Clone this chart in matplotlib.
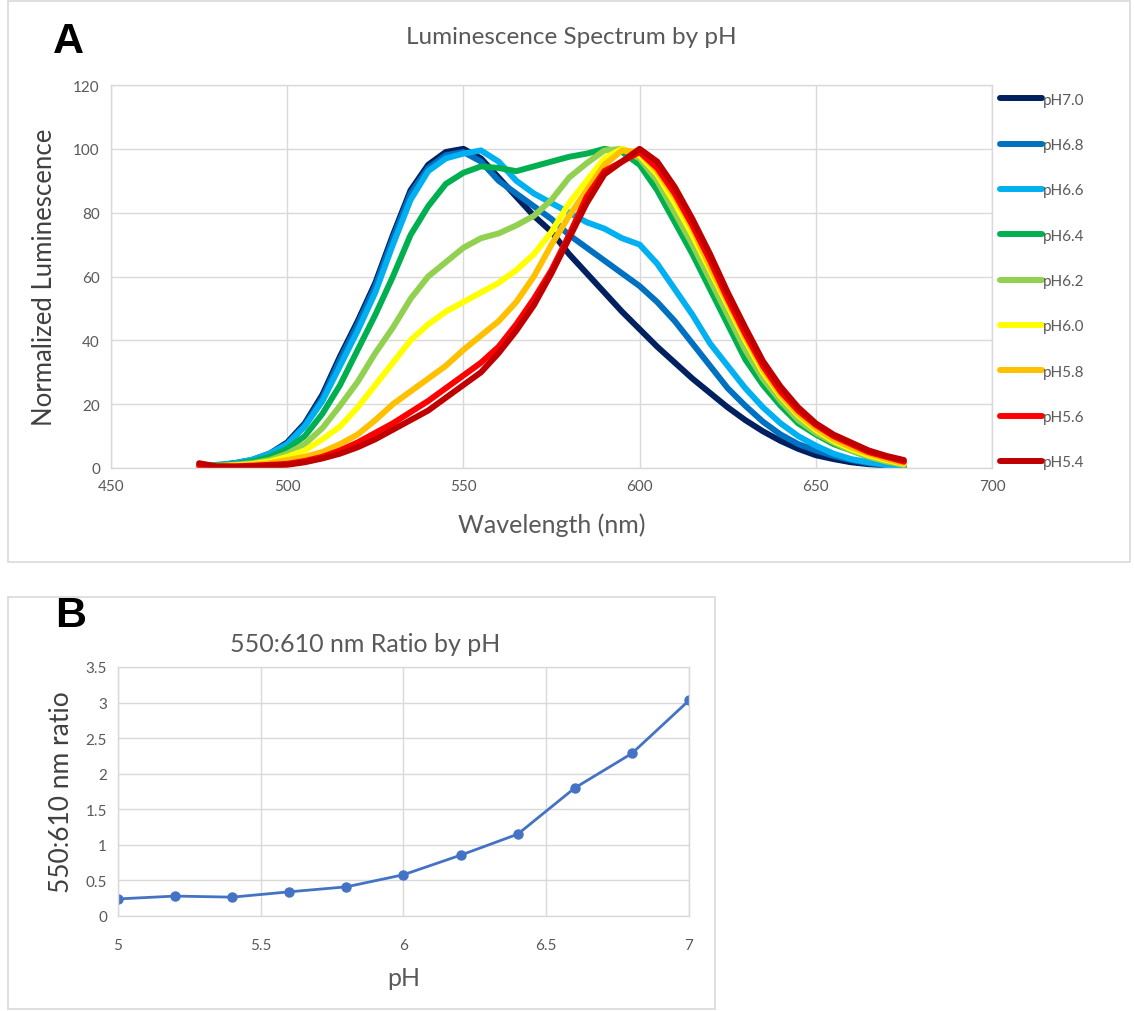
"""Luminescence spectra at different pH values, plus the 550:610 nm ratio curve."""

import matplotlib

matplotlib.use("Agg")
import matplotlib.pyplot as plt
from matplotlib.patches import Rectangle

plt.rcParams["font.family"] = ["Lato", "DejaVu Sans"]

# ---- spectra (normalized luminescence, sampled every 5 nm) ----
wavelength = list(range(475, 680, 5))

ph70 = [0.5, 0.8, 1.5, 2.5, 4.5, 8, 14, 23, 35, 46, 58, 73, 87, 95, 99, 100, 97, 91, 85, 79,
        74, 67, 61, 55, 49, 43.5, 38, 33, 28, 23.5, 19, 15, 11.5, 8.5, 6, 4, 2.8, 1.8, 1.2, 0.8, 0.5]
ph68 = [0.5, 0.8, 1.4, 2.4, 4.3, 7.5, 13.5, 22, 34, 45, 57, 72, 86, 94, 98, 99, 96, 90, 86, 82,
        78, 73, 69, 65, 61, 57, 52, 46, 39, 32, 25, 19.5, 14.5, 10.5, 7.5, 5.5, 3.8, 2.5, 1.5, 0.9, 0.5]
ph66 = [0.5, 1, 1.5, 2.6, 4.5, 7.5, 13, 21, 32, 43, 55, 70, 84, 93, 97, 98.5, 99.5, 96, 90, 86,
        83, 80, 77, 75, 72, 70, 64, 56, 48, 39, 32, 25, 19, 14, 10, 7, 4.5, 2.8, 1.8, 1, 0.5]
ph64 = [0.5, 0.8, 1.2, 2, 3.5, 6, 10, 17, 26, 37, 48, 60, 73, 82, 89, 92.5, 94.5, 94, 93, 94.5,
        96, 97.5, 98.5, 100, 99, 95, 87, 77, 67, 56, 45, 34, 26, 19.5, 14, 10.5, 7.5, 5.5, 3.5, 2, 1.2]
ph62 = [0.5, 0.7, 1, 1.5, 2.5, 4.5, 7.5, 12.5, 19.5, 27, 36, 44, 53, 60, 64.5, 69, 72, 73.5, 76, 79,
        84, 91, 95.5, 99.5, 100, 97, 90, 80, 70, 59, 48, 37, 28, 21, 15, 11, 8, 5.5, 3.5, 2, 1]
ph60 = [0.3, 0.5, 0.8, 1.2, 2, 3.5, 5.5, 9, 13, 19, 26, 33, 40, 45, 49, 52, 55, 58, 62, 67,
        74, 83, 90, 97, 100, 98, 92, 83, 73, 62, 51, 40, 30, 22.5, 16.5, 12, 8.5, 6, 4, 2.5, 1.3]
ph58 = [0.3, 0.4, 0.6, 1, 1.5, 2.5, 3.5, 5, 7.5, 10.5, 15, 20, 24, 28, 32, 37, 41.5, 46, 52, 60,
        70, 79, 87, 95, 99.5, 99, 93, 85, 75, 63, 52, 41, 31, 23, 17, 12.5, 9, 6.5, 4.5, 2.8, 1.5]
ph56 = [0.8, 0.5, 0.5, 0.7, 1, 1.3, 2.2, 3.5, 5.5, 8, 11, 14, 17.5, 21, 25, 29, 33, 38, 45, 53,
        62, 73, 85, 93, 96, 99, 94, 86, 76, 65, 53, 42, 32, 24, 18, 13.5, 10, 7.5, 5, 3.5, 2]
ph54 = [1.5, 0.5, 0.4, 0.5, 0.8, 1, 1.8, 3, 4.5, 6.5, 9, 12, 15, 18, 22, 26, 30, 36, 43, 51,
        61, 72, 83, 92, 96, 100, 96, 88, 78, 67, 55, 44, 33.5, 25.5, 19, 14, 10.5, 8, 5.5, 3.8, 2.5]

spectra = [ph70, ph68, ph66, ph64, ph62, ph60, ph58, ph56, ph54]
spectrum_labels = ["pH7.0", "pH6.8", "pH6.6", "pH6.4", "pH6.2", "pH6.0", "pH5.8", "pH5.6", "pH5.4"]
spectrum_colors = ["#002060", "#0070C0", "#00B0F0", "#00B050", "#92D050",
                   "#FFFF00", "#FFC000", "#FF0000", "#C00000"]

# ---- 550:610 ratio ----
ph_values = [5.0, 5.2, 5.4, 5.6, 5.8, 6.0, 6.2, 6.4, 6.6, 6.8, 7.0]
ratio_550_610 = [0.24, 0.28, 0.265, 0.34, 0.41, 0.58, 0.855, 1.15, 1.80, 2.285, 3.03]

GRID = "#D9D9D9"
TICK = "#595959"
LABEL = "#404040"


def style_axes(ax, pad=8):
    ax.grid(True, color=GRID, linewidth=1.0)
    ax.set_axisbelow(True)
    for sp in ax.spines.values():
        sp.set_color(GRID)
        sp.set_linewidth(1.0)
    ax.tick_params(length=0, colors=TICK, labelsize=11, pad=pad)


fig = plt.figure(figsize=(11.34, 10.12), dpi=100)
W, H = 1134, 1012

# panel frames
fig.add_artist(Rectangle((8 / W, 1 - 563 / H), 1122 / W, 561 / H, transform=fig.transFigure,
                         fill=False, edgecolor=GRID, linewidth=1.2))
fig.add_artist(Rectangle((8 / W, 1 - 1010 / H), 707 / W, 412 / H, transform=fig.transFigure,
                         fill=False, edgecolor=GRID, linewidth=1.2))

# ---- panel A ----
axA = fig.add_axes([111 / W, 1 - 469 / H, 881 / W, 383 / H])
for vals, lab, col in zip(spectra, spectrum_labels, spectrum_colors):
    axA.plot(wavelength, vals, color=col, linewidth=4.3, label=lab, solid_capstyle="round")
axA.set_xlim(450, 700)
axA.set_ylim(0, 120)
axA.set_xticks(range(450, 701, 50))
axA.set_yticks(range(0, 121, 20))
style_axes(axA)
fig.text(571 / W, 1 - 38 / H, "Luminescence Spectrum by pH", fontsize=17.5, color=TICK,
         ha="center", va="center")
axA.set_xlabel("Wavelength (nm)", fontsize=18, color=TICK, labelpad=14)
axA.set_ylabel("Normalized Luminescence", fontsize=18.5, color=LABEL, labelpad=12)
axA.legend(loc="upper left", bbox_to_anchor=(1.0, 1.0), frameon=False, fontsize=11,
           handlelength=2.8, handletextpad=0.05, labelspacing=2.05, borderaxespad=0.1,
           labelcolor=TICK)

fig.text(53 / W, 1 - 42 / H, "A", fontsize=31, fontweight="bold",
         family="Liberation Sans", va="center", ha="left")

# ---- panel B ----
axB = fig.add_axes([118 / W, 1 - 917 / H, 571 / W, 249 / H])
axB.plot(ph_values, ratio_550_610, color="#4472C4", linewidth=2.0, marker="o", markersize=6.5)
axB.set_xlim(5, 7)
axB.set_ylim(0, 3.5)
axB.set_xticks([5, 5.5, 6, 6.5, 7])
axB.set_xticklabels(["5", "5.5", "6", "6.5", "7"])
axB.set_yticks([0, 0.5, 1, 1.5, 2, 2.5, 3, 3.5])
axB.set_yticklabels(["0", "0.5", "1", "1.5", "2", "2.5", "3", "3.5"])
style_axes(axB)
axB.tick_params(axis="x", pad=16)
fig.text(365 / W, 1 - 645 / H, "550:610 nm Ratio by pH", fontsize=18, color=TICK,
         ha="center", va="center")
axB.set_xlabel("pH", fontsize=18, color=TICK, labelpad=10)
axB.set_ylabel("550:610 nm ratio", fontsize=19, color=LABEL, labelpad=8)

fig.text(55 / W, 1 - 616 / H, "B", fontsize=31, fontweight="bold",
         family="Liberation Sans", va="center", ha="left")

fig.savefig("out.png", dpi=100)
